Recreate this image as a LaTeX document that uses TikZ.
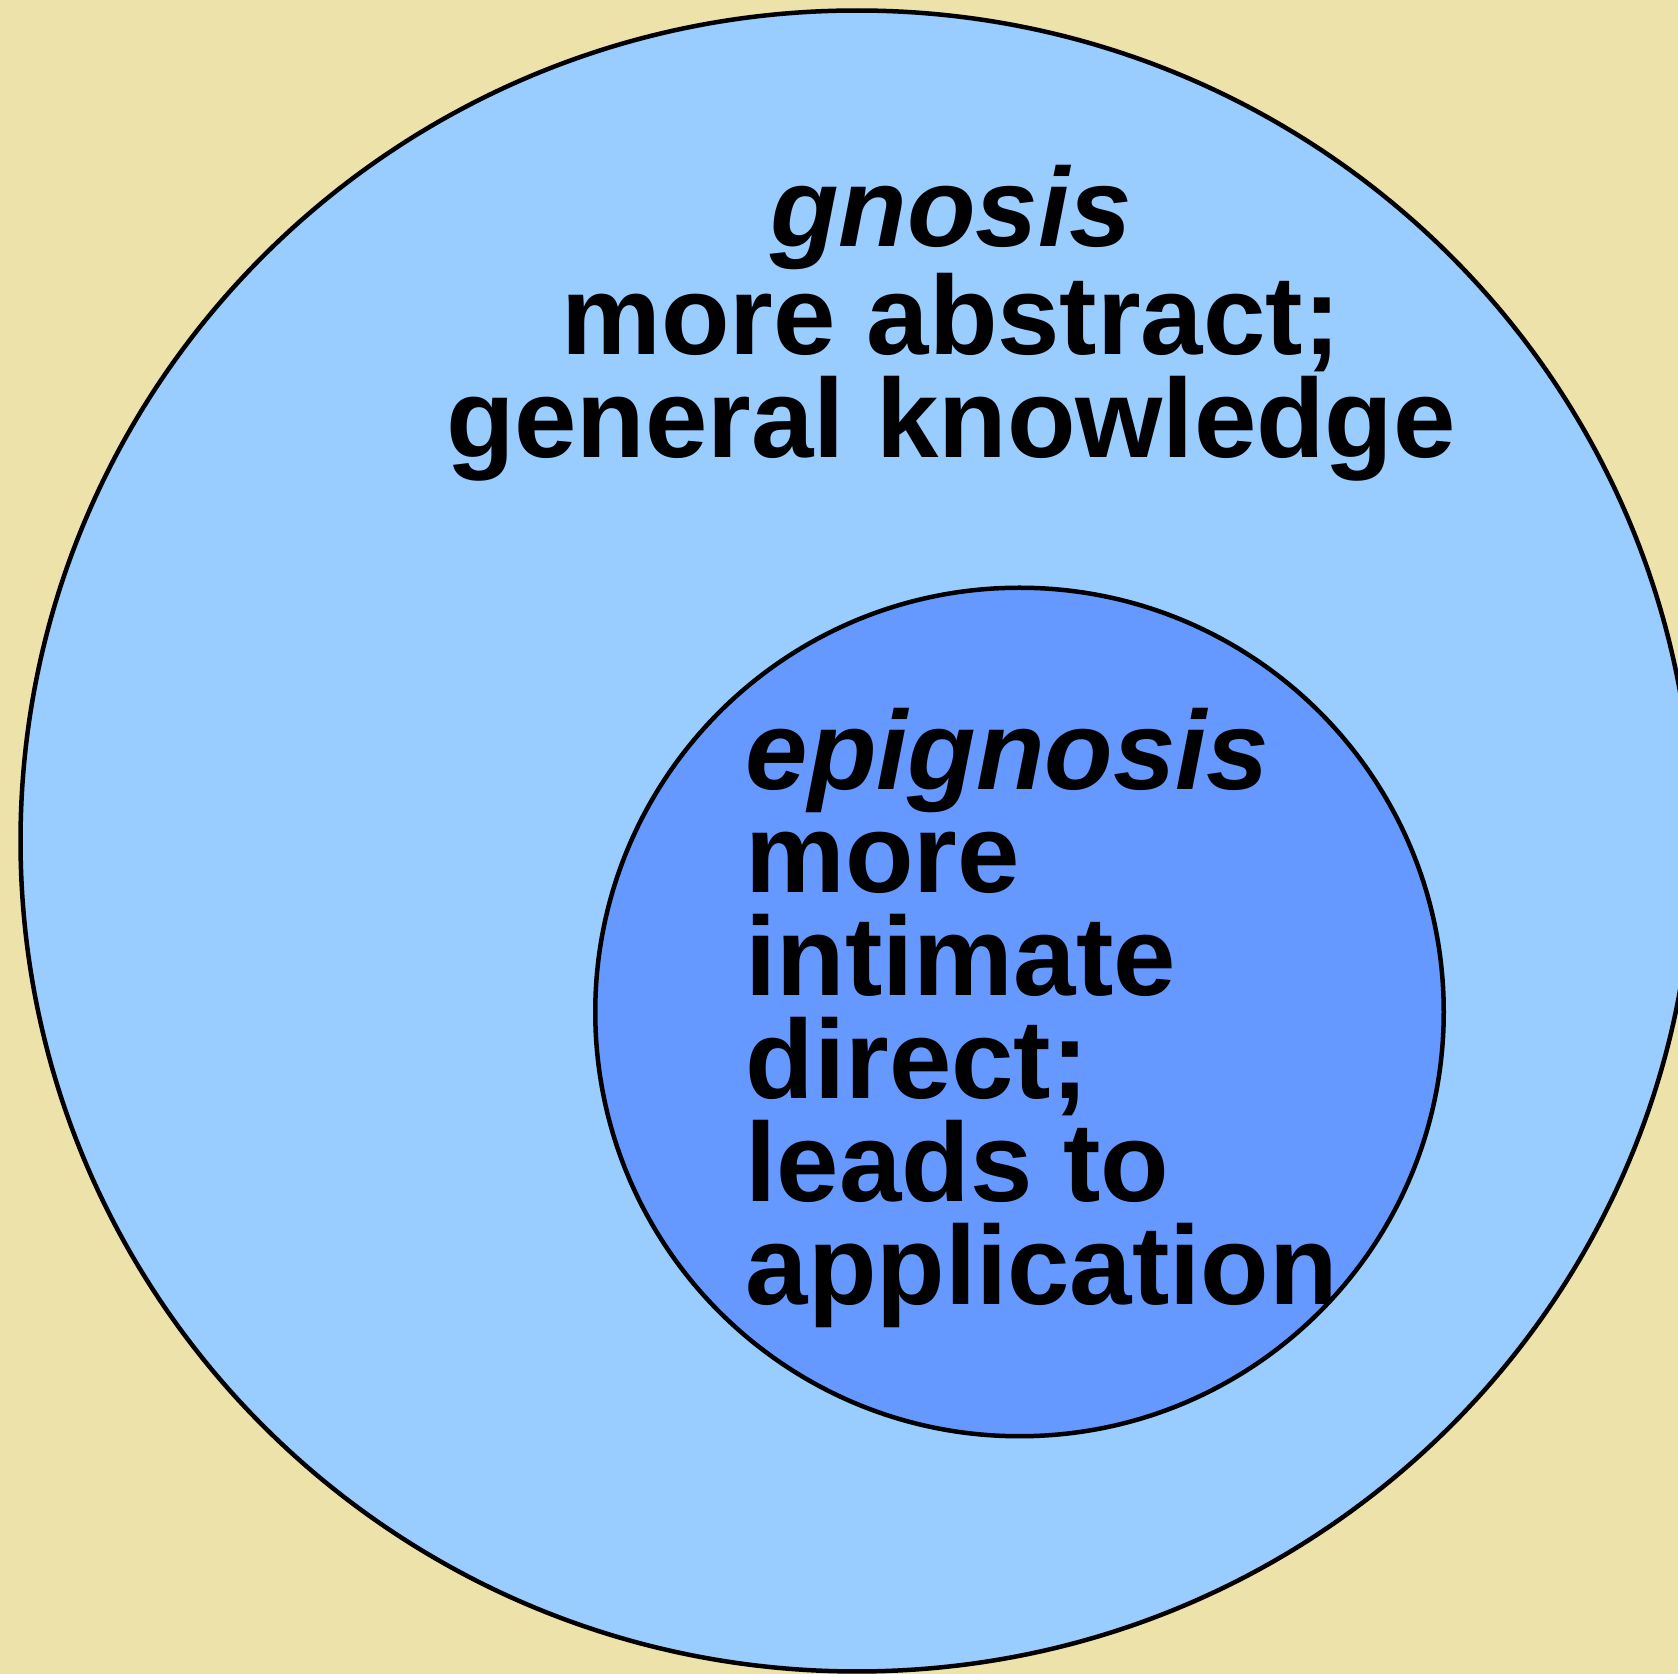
\documentclass[tikz,border=0pt]{standalone}
\usepackage{fontspec}
\setmainfont{Liberation Sans}
\usetikzlibrary{shapes.geometric}
\definecolor{parchment}{HTML}{EDE3AA}
\definecolor{gnosisblue}{HTML}{99CCFF}
\definecolor{epiblue}{HTML}{6699FF}

\begin{document}
\begin{tikzpicture}[x=0.01cm, y=-0.01cm,
    ring/.style={ellipse, draw=black, line width=0.045cm, inner sep=0pt},
    words/.style={inner sep=0pt, font=\fontsize{31.9}{29.3}\selectfont\bfseries},
]
    % page and paper
    \useasboundingbox (0,0) rectangle (1678,1674);
    \clip (0,0) rectangle (1678,1674);
    \fill[parchment] (0,0) rectangle (1678,1674);
    % the two circles
    \node[ring, fill=gnosisblue, minimum width=16.72cm, minimum height=16.60cm] (gnosis) at (857,841) {};
    \node[ring, fill=epiblue, minimum size=8.48cm] (epignosis) at (1019.5,1012) {};
    % texts (base = last line)
    \node[words, align=center, anchor=base] (gtext) at (951,458) {{\itshape gnosis}\\more abstract;\\general knowledge};
    \node[words, align=left, anchor=base west] (etext) at (745,1305) {{\itshape epignosis}\\more\\intimate\\direct;\\leads to\\application};
\end{tikzpicture}
\end{document}
